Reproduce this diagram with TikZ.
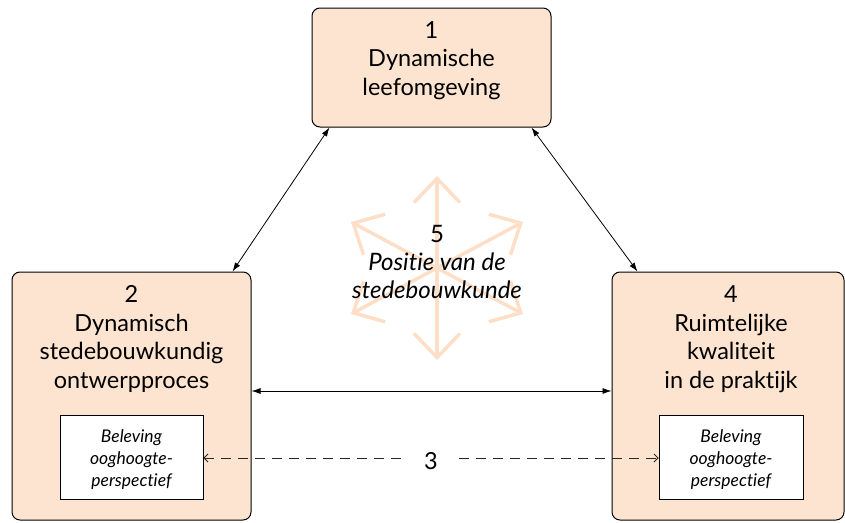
\documentclass[tikz,border=0pt]{standalone}
\usepackage{fontspec}
\setmainfont{Lato}[Ligatures={NoCommon,NoRare},Contextuals=NoAlternate]
\usetikzlibrary{arrows.meta}
\definecolor{peach}{RGB}{253,228,208}
\definecolor{starc}{RGB}{253,223,200}
\begin{document}
\begin{tikzpicture}[x=1pt,y=-1pt,
  bigbox/.style={draw=black,line width=1pt,fill=peach,rounded corners=8pt,inner sep=0pt},
  innerbox/.style={draw=black,line width=0.9pt,fill=white,inner sep=0pt},
  title/.style={font=\fontsize{23.5}{28.5}\selectfont,align=center,inner sep=0pt,anchor=base},
  small/.style={font=\fontsize{17.5}{21.8}\selectfont\itshape,align=center,inner sep=0pt,anchor=base},
  conn/.style={line width=0.8pt,{Latex[length=9pt,width=6pt]}-{Latex[length=9pt,width=6pt]}},
  dconn/.style={line width=0.8pt,draw=black!85,dash pattern=on 10pt off 7pt,{Straight Barb[length=4pt,width=8pt]}-{Straight Barb[length=4pt,width=8pt]}},
  stararrow/.style={draw=starc,line width=3.5pt,-{Straight Barb[length=24pt,width=46pt,line width=3.5pt]}}
  ]
\useasboundingbox (0,0) rectangle (845,522);
% star
\coordinate (c) at (437,268);
\coordinate (t1) at (437,176);
\coordinate (t2) at (437,360);
\coordinate (t3) at (351,222);
\coordinate (t4) at (523,222);
\coordinate (t5) at (351,314);
\coordinate (t6) at (523,314);
\foreach \t in {t1,t2,t3,t4,t5,t6} \draw[stararrow] (c) -- (\t);
% boxes
\node[bigbox,minimum width=239pt,minimum height=119pt] (b1) at (431.5,67.5) {};
\node[bigbox,minimum width=239pt,minimum height=248pt] (b2) at (131.5,396) {};
\node[bigbox,minimum width=232pt,minimum height=248pt] (b4) at (728,396) {};
\node[innerbox,minimum width=143pt,minimum height=84pt] (i2) at (131.5,457) {};
\node[innerbox,minimum width=144pt,minimum height=84pt] (i4) at (731,457) {};
% texts
\node[title] (l1) at (431.5,95) {1\\Dynamische\\leefomgeving};
\node[title] (l2) at (131.5,388) {2\\Dynamisch\\stedebouwkundig\\ontwerpproces};
\node[title] (l4) at (731,388) {4\\Ruimtelijke\\kwaliteit\\in de praktijk};
\node[small] (s2) at (131.5,486) {Beleving\\ooghoogte-\\perspectief};
\node[small] (s4) at (731,486) {Beleving\\ooghoogte-\\perspectief};
\node[font=\fontsize{24}{28}\selectfont,align=center,inner sep=0pt,anchor=base] (l5) at (437,298) {5\\\itshape Positie van de\\\itshape stedebouwkunde};
% connectors
\draw[conn] ([xshift=18pt]b1.south west) -- ([xshift=-19pt]b2.north east);
\draw[conn] ([xshift=-20pt]b1.south east) -- ([xshift=26pt]b4.north west);
\coordinate (h) at (0,391);
\draw[conn] (b2.east |- h) -- (b4.west |- h);
\coordinate (d) at (0,458);
\draw[dconn] (i2.east |- d) -- (i4.west |- d);
\node[fill=white,font=\fontsize{23.5}{24}\selectfont,inner xsep=20pt,inner ysep=2pt] (l3) at (431,461) {3};
\end{tikzpicture}
\end{document}
